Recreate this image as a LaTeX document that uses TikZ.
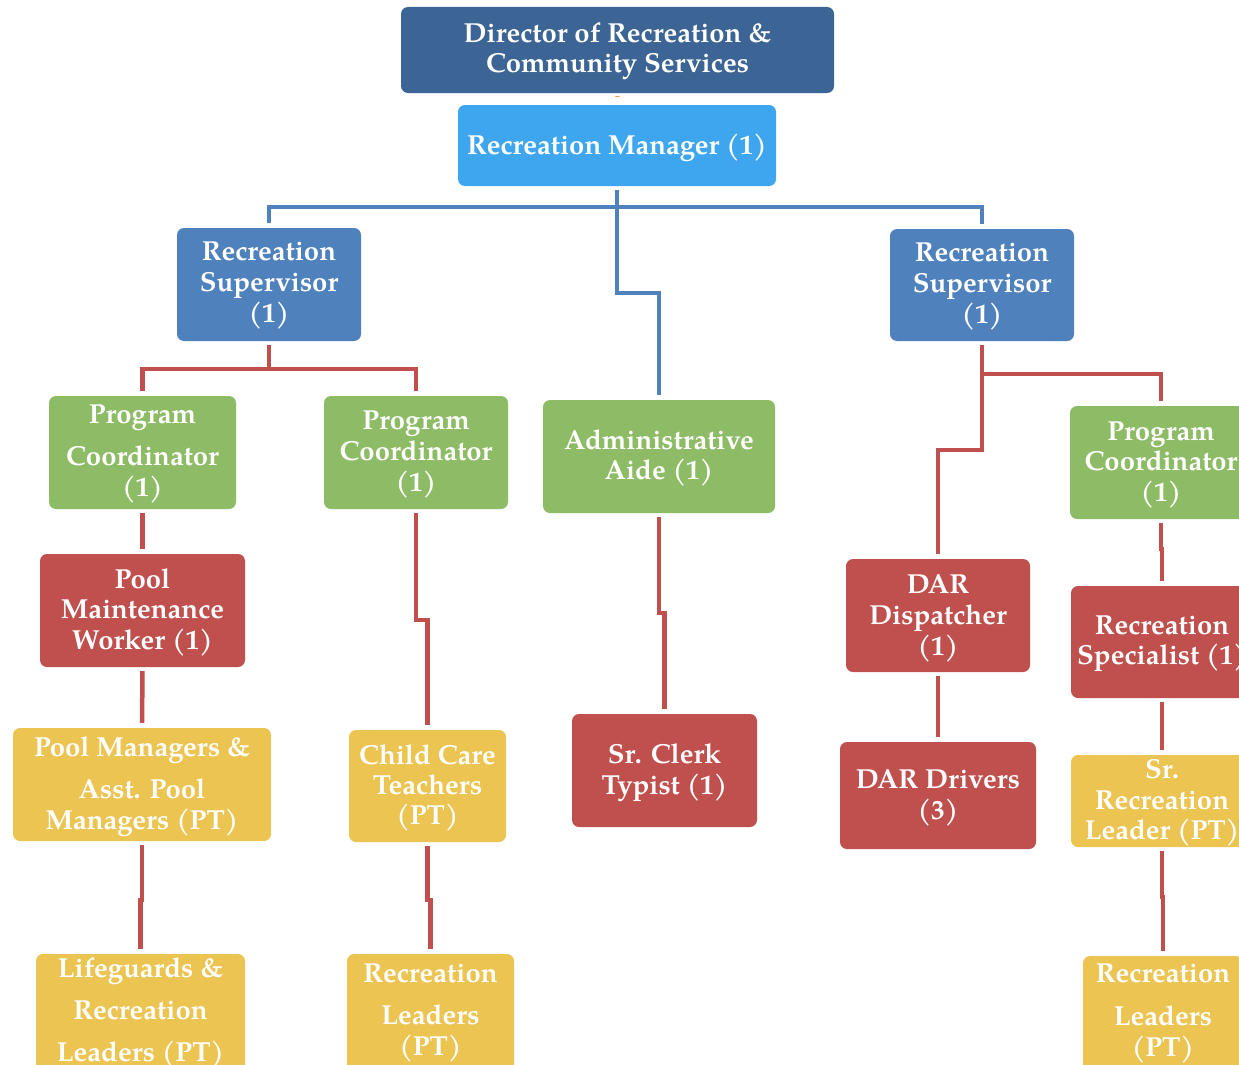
\documentclass[tikz,border=0pt]{standalone}
\usepackage{fontspec}
\setmainfont{TeX Gyre Pagella}
\definecolor{dirblue}{HTML}{3C6494}
\definecolor{mgrblue}{HTML}{3EA6EE}
\definecolor{supblue}{HTML}{4F81BD}
\definecolor{pcgreen}{HTML}{8EBB65}
\definecolor{staffred}{HTML}{C0504D}
\definecolor{ptyellow}{HTML}{ECC452}
\definecolor{linkorange}{HTML}{F79646}
\tikzset{
  box/.style={rectangle, rounded corners=7pt, inner sep=0pt, draw=none},
  lbl/.style={text=white, align=center, inner sep=0pt, yshift=-3pt,
    font=\fontsize{27.5}{30}\selectfont\bfseries},
  bluelink/.style={draw=supblue, line width=4.5pt, shorten <=4pt, shorten >=5pt},
  redlink/.style={draw=staffred, line width=4.5pt, shorten <=4pt, shorten >=5pt},
  orangelink/.style={draw=linkorange, line width=5pt, shorten <=3pt, shorten >=8pt},
}
\begin{document}
\begin{tikzpicture}[x=1pt, y=-1pt]
\useasboundingbox (0,0) rectangle (1239,1065);
\clip (0,0) rectangle (1239,1065);

% --- boxes ---
\node[box, fill=dirblue,  minimum width=433, minimum height=86]  (dir)     at (617.5,50)   {};
\node[box, fill=mgrblue,  minimum width=318, minimum height=81]  (mgr)     at (617,145.5)  {};
\node[box, fill=supblue,  minimum width=184, minimum height=113] (supL)    at (269,284.5)  {};
\node[box, fill=supblue,  minimum width=184, minimum height=112] (supR)    at (982,285)    {};
\node[box, fill=pcgreen,  minimum width=187, minimum height=113] (pc1)     at (142.5,452.5){};
\node[box, fill=pcgreen,  minimum width=184, minimum height=113] (pc2)     at (416,452.5)  {};
\node[box, fill=pcgreen,  minimum width=232, minimum height=113] (aide)    at (659,456.5)  {};
\node[box, fill=pcgreen,  minimum width=182, minimum height=113] (pc3)     at (1161,462.5) {};
\node[box, fill=staffred, minimum width=205, minimum height=113] (pmw)     at (142.5,610.5){};
\node[box, fill=staffred, minimum width=184, minimum height=113] (dar)     at (938,615.5)  {};
\node[box, fill=staffred, minimum width=182, minimum height=112] (rs)      at (1162,642)   {};
\node[box, fill=staffred, minimum width=185, minimum height=113] (clerk)   at (664.5,770.5){};
\node[box, fill=staffred, minimum width=196, minimum height=107] (drivers) at (938,795.5)  {};
\node[box, fill=ptyellow, minimum width=258, minimum height=113] (poolmgr) at (142,784.5)  {};
\node[box, fill=ptyellow, minimum width=157, minimum height=112] (cc)      at (427.5,786)  {};
\node[box, fill=ptyellow, minimum width=182, minimum height=92]  (srl)     at (1162,801)   {};
\node[box, fill=ptyellow, minimum width=209, minimum height=122] (life)    at (140.5,1015) {};
\node[box, fill=ptyellow, minimum width=167, minimum height=122] (rl2)     at (430.5,1015) {};
\node[box, fill=ptyellow, minimum width=160, minimum height=120] (rl3)     at (1163,1016)  {};

% --- labels ---
\node[lbl] (dir-t)     at (617.5,48.5) {Director of Recreation \&\\Community Services};
\node[lbl] (mgr-t)     at (617,145)    {Recreation Manager (1)};
\node[lbl] (supL-t)    at (269,283)    {Recreation\\[1pt]Supervisor\\[1pt](1)};
\node[lbl] (supR-t)    at (982,284)    {Recreation\\[1pt]Supervisor\\[1pt](1)};
\node[lbl] (pc1-t)     at (142.5,451)  {Program\\[12pt]Coordinator\\[1pt](1)};
\node[lbl] (pc2-t)     at (416,452)    {Program\\[1pt]Coordinator\\[1pt](1)};
\node[lbl] (aide-t)    at (659,455)    {Administrative\\Aide (1)};
\node[lbl] (pc3-t)     at (1161,462)   {Program\\[0pt]Coordinator\\[1pt](1)};
\node[lbl] (pmw-t)     at (142.5,609)  {Pool\\Maintenance\\[1pt]Worker (1)};
\node[lbl] (dar-t)     at (938,615)    {DAR\\[1pt]Dispatcher\\[1pt](1)};
\node[lbl] (rs-t)      at (1162,641)   {Recreation\\Specialist (1)};
\node[lbl] (clerk-t)   at (664.5,770)  {Sr. Clerk\\[1pt]Typist (1)};
\node[lbl] (drivers-t) at (938,795)    {DAR Drivers\\[1pt](3)};
\node[lbl] (poolmgr-t) at (142,784)    {Pool Managers \&\\[12pt]Asst. Pool\\[1pt]Managers (PT)};
\node[lbl] (cc-t)      at (427.5,785)  {Child Care\\Teachers\\(PT)};
\node[lbl] (srl-t)     at (1162,800)   {Sr.\\[1pt]Recreation\\Leader (PT)};
\node[lbl] (life-t)    at (140.5,1010) {Lifeguards \&\\[12pt]Recreation\\[12pt]Leaders (PT)};
\node[lbl] (rl2-t)     at (430.5,1010) {Recreation\\[12pt]Leaders\\[1pt](PT)};
\node[lbl] (rl3-t)     at (1163,1011)  {Recreation\\[13pt]Leaders\\[1pt](PT)};

% --- reporting lines ---
\draw[orangelink] (dir.south) -- (mgr.north);
\draw[bluelink] (mgr.south) -- ++(0,21) -| (supL.north);
\draw[bluelink] (mgr.south) -- ++(0,21) -| (supR.north);
\draw[bluelink] (mgr.south) -- ++(0,107) -| (aide.north);

\draw[redlink] (supL.south) -- ++(0,28) -| (pc1.north);
\draw[redlink] (supL.south) -- ++(0,28) -| (pc2.north);
\draw[redlink] (pc1.south) -- (pmw.north);
\draw[redlink] (pmw.south) -- (poolmgr.north);
\draw[redlink] (poolmgr.south) -- ++(0,59) -| (life.north);
\draw[redlink] (pc2.south) -- ++(0,111) -| (cc.north);
\draw[redlink] (cc.south) -- ++(0,58) -| (rl2.north);
\draw[redlink] (aide.south) -- ++(0,100) -| (clerk.north);

\draw[redlink] (supR.south) -- ++(0,33) -| (pc3.north);
\draw[redlink] (supR.south) -- ++(0,109) -| (dar.north);
\draw[redlink] (dar.south) -- (drivers.north);
\draw[redlink] (pc3.south) -- ++(0,30) -| (rs.north);
\draw[redlink] (rs.south) -- (srl.north);
\draw[redlink] (srl.south) -- ++(0,50) -| (rl3.north);
\end{tikzpicture}
\end{document}
